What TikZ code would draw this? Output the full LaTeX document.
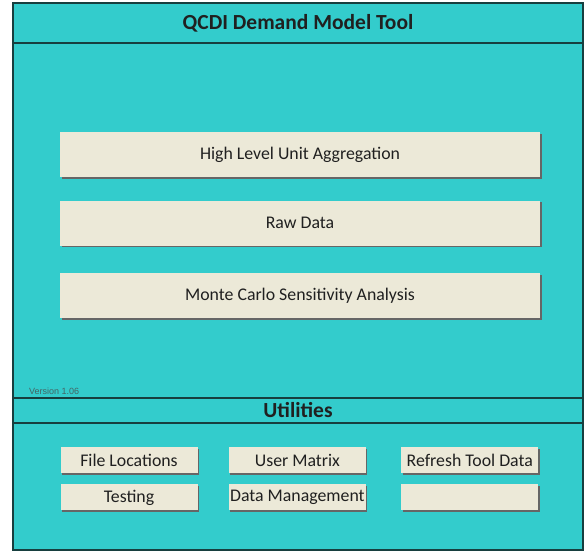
\documentclass[tikz,border=0pt]{standalone}
\usepackage{fontspec}
\setmainfont{Carlito}
\newfontfamily\arialfont{Liberation Sans}
\usepackage{tikz}
\usetikzlibrary{positioning,shadows}
\definecolor{panelteal}{HTML}{33CCCC}
\definecolor{framedark}{HTML}{173F3F}
\definecolor{buttonface}{HTML}{ECE9D8}
\definecolor{labelgray}{HTML}{202020}
\tikzset{
  panel/.style={draw=framedark,line width=2pt,fill=panelteal,inner sep=0pt,minimum width=570pt},
  heading/.style={font=\bfseries\fontsize{21.5}{24}\selectfont,text=labelgray},
  bigbutton/.style={fill=buttonface,inner sep=0pt,minimum width=480pt,minimum height=45pt,
    font=\fontsize{17.8}{20}\selectfont,text=labelgray,
    drop shadow={shadow xshift=1.5pt,shadow yshift=-1.5pt,fill=gray!80!black,opacity=1}},
  smallbutton/.style={fill=buttonface,inner sep=0pt,minimum width=137pt,minimum height=26pt,
    font=\fontsize{17.8}{20}\selectfont,text=labelgray,
    drop shadow={shadow xshift=1.5pt,shadow yshift=-1.5pt,fill=gray!80!black,opacity=1}}
}
\begin{document}
\begin{tikzpicture}[x=1pt,y=-1pt]
  \useasboundingbox[fill=white] (0,0) rectangle (584,554);
  % frame and bars
  \node[panel,minimum height=40pt] (titlebar) at (298,23) {};
  \node[panel,minimum height=355pt] (mainpanel) at (298,220.5) {};
  \node[panel,minimum height=25pt] (utilbar) at (298,410.5) {};
  \node[panel,minimum height=127pt] (utilpanel) at (298,486.5) {};
  \node[heading] (title) at (titlebar.center) {QCDI Demand Model Tool};
  \node[heading] (utiltitle) at (utilbar.center) {Utilities};
  \node[font=\arialfont\fontsize{9}{10}\selectfont,text=framedark!80,anchor=south west,inner sep=0pt]
    (version) at (29,395) {Version 1.06};
  % main buttons
  \node[bigbutton] (aggregation) at (300,154.5) {High Level Unit Aggregation};
  \node[bigbutton] (rawdata) at (300,223) {Raw Data};
  \node[bigbutton] (montecarlo) at (300,295.5) {Monte Carlo Sensitivity Analysis};
  % utility buttons
  \node[smallbutton] (filelocations) at (129,460) {File Locations};
  \node[smallbutton] (usermatrix) [right=31pt of filelocations] {User Matrix};
  \node[smallbutton] (refresh) [right=35pt of usermatrix] {Refresh Tool Data};
  \node[smallbutton] (testing) [below=11pt of filelocations] {Testing};
  \node[smallbutton] (datamgmt) [below=11pt of usermatrix] {Data Management};
  \node[smallbutton] (spare) [below=11pt of refresh] {};
\end{tikzpicture}
\end{document}
